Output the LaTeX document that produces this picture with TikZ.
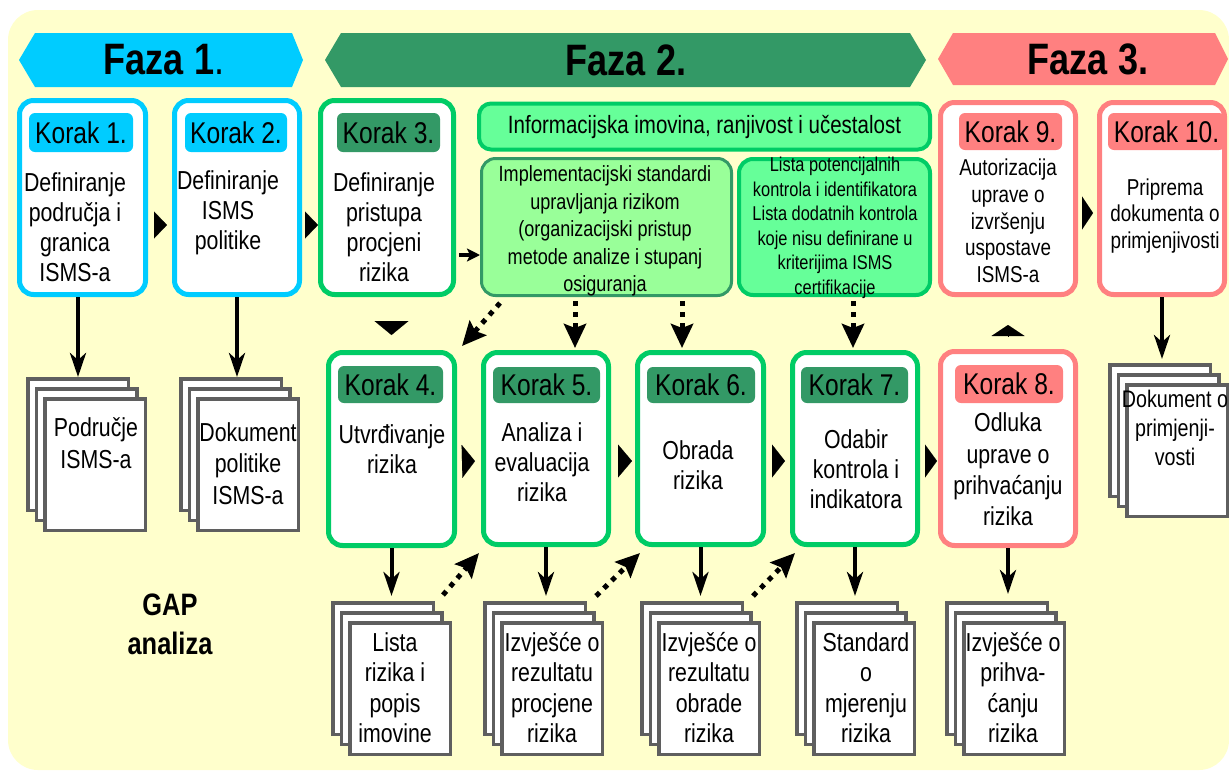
\documentclass[tikz,border=0pt]{standalone}
\usepackage{fontspec}
\setmainfont{Liberation Sans}[FakeStretch=0.82]
\usetikzlibrary{arrows.meta,calc}
\definecolor{bgy}{HTML}{FFFFCC}
\definecolor{cyc}{HTML}{00CCFF}
\definecolor{dgr}{HTML}{339966}
\definecolor{brg}{HTML}{00CC66}
\definecolor{lgr}{HTML}{66FF99}
\definecolor{llg}{HTML}{99FF99}
\definecolor{pnk}{HTML}{FF8080}
\definecolor{dgray}{HTML}{5F5F5F}
\tikzset{
  kbox/.style={draw=#1, line width=5pt, fill=white, rounded corners=14pt, inner sep=0pt},
  lab/.style={fill=#1, rounded corners=6pt, inner sep=0pt, font=\fontsize{30}{30}\selectfont},
  body/.style={align=center, inner sep=0pt, font=\fontsize{26}{30}\selectfont},
  fazatxt/.style={inner sep=0pt, font=\bfseries\fontsize{44}{44}\selectfont},
  page/.style={draw=dgray, line width=3.5pt, fill=white, minimum width=100.5pt, minimum height=131.5pt, inner sep=0pt, anchor=north west},
  tri/.style 2 args={line width=0.1pt, -{Triangle[length=#1pt,width=#2pt]}},
  solidarr/.style={line width=4pt, -{Stealth[length=24pt,width=16pt,inset=7pt]}},
  dotarr/.style={line width=5pt, dash pattern=on 5pt off 6pt, -{Stealth[length=24pt,width=22pt,inset=4pt]}},
  smallarr/.style={line width=3.5pt, -{Stealth[length=13pt,width=13pt,inset=3pt]}}
}
\begin{document}
\begin{tikzpicture}[x=1pt,y=-1pt]
\useasboundingbox (0,0) rectangle (1229,772);
\fill[bgy, rounded corners=30pt] (8,10) rectangle (1229,770);

% phase banners
\fill[cyc] (19,60) -- (35,33) -- (292,33) -- (303,60) -- (292,87) -- (35,87) -- cycle;
\node[fazatxt] (f1) at (164,60) {Faza 1{\mdseries .}};
\fill[dgr] (325,60) -- (341,33) -- (910,33) -- (926,60) -- (910,87) -- (341,87) -- cycle;
\node[fazatxt] (f2) at (626,60) {Faza 2.};
\fill[pnk] (938,59) -- (953,33) -- (1215,33) -- (1228,59) -- (1215,85) -- (953,85) -- cycle;
\node[fazatxt] (f3) at (1088,59) {Faza 3.};

% top row boxes
\node[kbox=cyc, minimum width=126pt, minimum height=194pt] (k1) at (82.5,197.5) {};
\node[kbox=cyc, minimum width=125pt, minimum height=194pt] (k2) at (237,197.5) {};
\node[kbox=brg, minimum width=133pt, minimum height=194pt] (k3) at (387,197.5) {};
\node[kbox=pnk, minimum width=135pt, minimum height=192pt] (k9) at (1008,198.5) {};
\node[kbox=pnk, minimum width=125pt, minimum height=192pt] (k10) at (1162,198.5) {};

\node[draw=brg, fill=lgr, line width=4pt, rounded corners=12pt, minimum width=451pt, minimum height=46pt, inner sep=0pt,
      font=\fontsize{25}{25}\selectfont] (info) at (704.5,126.5) {Informacijska imovina, ranjivost i učestalost};
\node[draw=dgr, fill=llg, line width=3pt, rounded corners=14pt, minimum width=250pt, minimum height=137pt, inner sep=0pt] (impl) at (606.5,227) {};
\node[draw=brg, fill=lgr, line width=4pt, rounded corners=14pt, minimum width=191pt, minimum height=136pt, inner sep=0pt] (lista) at (834.5,227) {};
\node[align=center, inner sep=0pt, font=\fontsize{22}{27.5}\selectfont] (timpl) at (605,231)
  {Implementacijski standardi\\upravljanja rizikom\\(organizacijski pristup\\metode analize i stupanj\\osiguranja};
\node[align=center, inner sep=0pt, font=\fontsize{20}{24.5}\selectfont] (tlista) at (835,228)
  {Lista potencijalnih\\kontrola i identifikatora\\Lista dodatnih kontrola\\koje nisu definirane u\\kriterijima ISMS\\certifikacije};

% middle row boxes
\node[kbox=brg, minimum width=126pt, minimum height=193pt] (k4) at (391.5,449) {};
\node[kbox=brg, minimum width=125pt, minimum height=192pt] (k5) at (546,448.5) {};
\node[kbox=brg, minimum width=126pt, minimum height=192pt] (k6) at (700.5,448.5) {};
\node[kbox=brg, minimum width=125pt, minimum height=192pt] (k7) at (855,448.5) {};
\node[kbox=pnk, minimum width=135pt, minimum height=194pt] (k8) at (1008,448.5) {};

% labels
\node[lab=cyc, minimum width=104pt, minimum height=39pt] (l1) at (81,132.5) {Korak 1.};
\node[lab=cyc, minimum width=102pt, minimum height=39pt] (l2) at (236,132.5) {Korak 2.};
\node[lab=dgr, minimum width=103pt, minimum height=39pt] (l3) at (388.5,132.5) {Korak 3.};
\node[lab=pnk, minimum width=103pt, minimum height=37pt] (l9) at (1010.5,131.5) {Korak 9.};
\node[lab=pnk, minimum width=117pt, minimum height=37pt] (l10) at (1166.5,131.5) {Korak 10.};
\node[lab=dgr, minimum width=105pt, minimum height=37pt] (l4) at (390.5,384.5) {Korak 4.};
\node[lab=dgr, minimum width=107pt, minimum height=36pt] (l5) at (546.5,385) {Korak 5.};
\node[lab=dgr, minimum width=108pt, minimum height=36pt] (l6) at (701,385) {Korak 6.};
\node[lab=dgr, minimum width=107pt, minimum height=36pt] (l7) at (854.5,385) {Korak 7.};
\node[lab=pnk, minimum width=108pt, minimum height=38pt] (l8) at (1009,384) {Korak 8.};

% body texts
\node[body] (b1) at (75,227.5) {Definiranje\\područja i\\granica\\ISMS-a};
\node[body] (b2) at (228,212.5) {Definiranje\\ISMS\\politike};
\node[body] (b3) at (384,227.5) {Definiranje\\pristupa\\procjeni\\rizika};
\node[body] (b4) at (392,449.5) {Utvrđivanje\\rizika};
\node[body] (b5) at (542,462.5) {Analiza i\\evaluacija\\rizika};
\node[body] (b6) at (698,465.5) {Obrada\\rizika};
\node[body] (b7) at (856,469.5) {Odabir\\kontrola i\\indikatora};
\node[body, font=\fontsize{26}{31.3}\selectfont] (b8) at (1008,469.5) {Odluka\\uprave o\\prihvaćanju\\rizika};
\node[body, font=\fontsize{23}{26.75}\selectfont] (b9) at (1008,221) {Autorizacija\\uprave o\\izvršenju\\uspostave\\ISMS-a};
\node[body, font=\fontsize{23}{26.5}\selectfont] (b10) at (1165,216) {Priprema\\dokumenta o\\primjenjivosti};

% documents
\foreach \n/\x/\y in {1/26/377, 2/179/377, 4/331/601, 5/483/601, 6/640/601, 7/795/601, 8/945/601, 10/1108/363}{
  \node[page] (d\n a) at (\x,\y) {};
  \node[page] (d\n b) at (\x+8.5,\y+10) {};
  \node[page] (d\n c) at (\x+17,\y+20) {};
}
\node[body, font=\fontsize{26}{32}\selectfont] (t1) at (96,443.5) {Područje\\ISMS-a};
\node[body, font=\fontsize{26}{31.5}\selectfont] (t2) at (248,463.5) {Dokument\\politike\\ISMS-a};
\node[body, font=\fontsize{26}{30.5}\selectfont] (t4) at (395,687.5) {Lista\\rizika i\\popis\\imovine};
\node[body, font=\fontsize{26}{30.5}\selectfont] (t5) at (552,687.5) {Izvješće o\\rezultatu\\procjene\\rizika};
\node[body, font=\fontsize{26}{30.5}\selectfont] (t6) at (709,687.5) {Izvješće o\\rezultatu\\obrade\\rizika};
\node[body, font=\fontsize{26}{30.5}\selectfont] (t7) at (866,687.5) {Standard\\o\\mjerenju\\rizika};
\node[body, font=\fontsize{26}{30.5}\selectfont] (t8) at (1013,687.5) {Izvješće o\\prihva-\\ćanju\\rizika};
\node[body, font=\fontsize{24}{29}\selectfont] (t10) at (1175,428) {Dokument o\\primjenji-\\vosti};

\node[align=center, inner sep=0pt, font=\bfseries\fontsize{31}{39}\selectfont] (gap) at (170,624) {GAP\\analiza};

% triangle connectors
\draw[tri={13}{27}, shorten <=6pt, shorten >=5pt] ([yshift=-27.5pt]k1.east) -- ([yshift=-27.5pt]k2.west);
\draw[tri={13}{27}, shorten <=3pt, shorten >=0pt] ([yshift=-27.5pt]k2.east) -- ([yshift=-27.5pt]k3.west);
\draw[tri={11}{33}, shorten <=4pt, shorten >=4pt] ([yshift=-14.5pt]k9.east) -- ([yshift=-14.5pt]k10.west);
\draw[tri={13}{33}, shorten <=5pt, shorten >=6pt] ([yshift=-12.5pt]k4.east) -- ([yshift=-12.5pt]k5.west);
\draw[tri={14}{33}, shorten <=7pt, shorten >=3pt] ([yshift=-12.5pt]k5.east) -- ([yshift=-12.5pt]k6.west);
\draw[tri={13}{33}, shorten <=6pt, shorten >=5pt] ([yshift=-12.5pt]k6.east) -- ([yshift=-12.5pt]k7.west);
\draw[tri={12}{33}, shorten <=5pt, shorten >=1pt] ([yshift=-12.5pt]k7.east) -- ([yshift=-12.5pt]k8.west);
\draw[tri={14}{34}, shorten <=24pt, shorten >=15pt] (k3.south -| k4.north) -- (k4.north);
\draw[tri={11}{33}, shorten <=13pt, shorten >=28pt] (k8.north) -- (k9.south);

% small arrow K3 -> impl
\coordinate (k3r) at ([yshift=-57.5pt]k3.east);
\draw[smallarr, shorten <=3pt] (k3r) -- (k3r -| impl.west);

% solid arrows to documents
\draw[solidarr] (k1.south -| d1a.north) -- (d1a.north);
\draw[solidarr] (k2.south) -- (k2.south |- d2a.north);
\draw[solidarr, shorten >=5pt] (k4.south) -- (k4.south |- d4a.north);
\draw[solidarr, shorten >=5pt] (k5.south) -- (k5.south |- d5a.north);
\draw[solidarr, shorten >=5pt] (k6.south) -- (k6.south |- d6a.north);
\draw[solidarr, shorten >=5pt] (k7.south) -- (k7.south |- d7a.north);
\draw[solidarr, shorten >=7pt] (k8.south) -- (k8.south |- d8a.north);
\draw[solidarr, shorten >=4pt] (k10.south) -- (k10.south |- d10a.north);

% dotted arrows from the inputs
\coordinate (t5p) at ([xshift=29pt,yshift=2pt]k5.north);
\coordinate (t6p) at ([xshift=-18.5pt,yshift=2pt]k6.north);
\coordinate (t7p) at ([xshift=-2pt,yshift=2pt]k7.north);
\draw[dotarr] ([xshift=20pt,yshift=-6pt]impl.south west) -- ([xshift=5pt,yshift=4pt]k4.north east);
\draw[dotarr, shorten <=4pt] (impl.south -| t5p) -- (t5p);
\draw[dotarr, shorten <=4pt] (impl.south -| t6p) -- (t6p);
\draw[dotarr, shorten <=4pt] (lista.south -| t7p) -- (t7p);

% dotted arrows from documents to next steps
\draw[dotarr] ([xshift=8pt,yshift=6pt]d4a.north east) -- ([xshift=-2pt,yshift=-6pt]k5.south west);
\draw[dotarr] ([xshift=9pt,yshift=5pt]d5a.north east) -- ([xshift=5pt,yshift=-6pt]k6.south west);
\draw[dotarr] ([xshift=9pt,yshift=5pt]d6a.north east) -- ([xshift=5pt,yshift=-6pt]k7.south west);
\end{tikzpicture}
\end{document}
